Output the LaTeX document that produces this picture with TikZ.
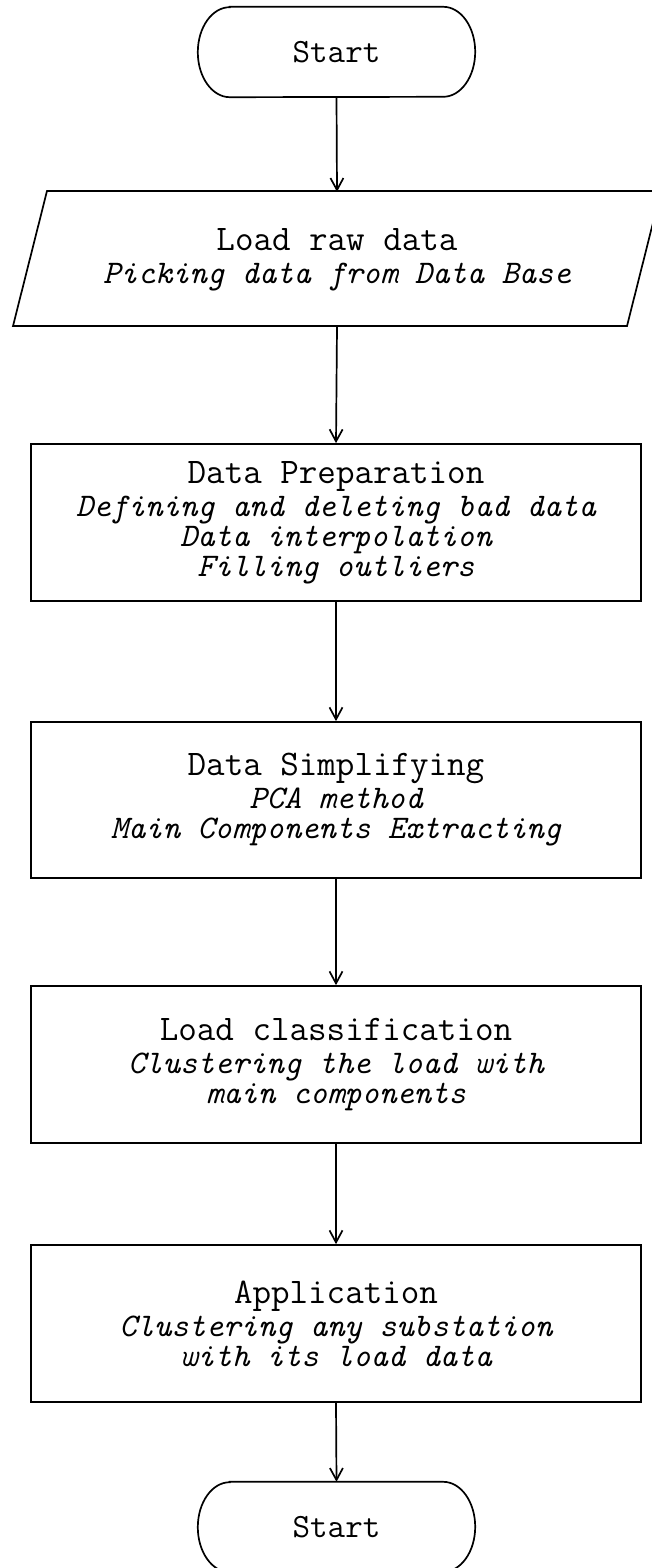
\documentclass[tikz,border=0pt]{standalone}
\usetikzlibrary{arrows.meta,calc}
\begin{document}
\begin{tikzpicture}[x=1pt,y=-1pt,
  line/.style={line width=1.7pt},
  flow/.style={line, -{Straight Barb[length=12pt,width=13pt,line width=1.7pt]}},
  stepbox/.style={draw, line, minimum width=610pt, inner sep=0pt, align=center,
    font=\fontsize{33}{30}\selectfont\ttfamily\itshape},
  termbox/.style={minimum width=277pt, minimum height=90pt, inner sep=0pt,
    font=\fontsize{34}{34}\selectfont\ttfamily}]
  % page
  \fill[white] (0,0) rectangle (652,1568);
  \useasboundingbox (0,0) rectangle (652,1568);

  % terminal (top)
  \node[termbox] (start) at (336.5,52) {Start};
  \draw[line] ($(start.north west)+(32,0)$) -- ($(start.north east)+(-32,0)$)
    arc[start angle=90, end angle=-90, x radius=32pt, y radius=45pt]
    -- ($(start.south west)+(32,0)$)
    arc[start angle=270, end angle=90, x radius=32pt, y radius=45pt] -- cycle;

  % input (parallelogram)
  \node[minimum width=614pt, minimum height=135pt, inner sep=0pt, align=center,
        font=\fontsize{33}{30}\selectfont\ttfamily\itshape] (load) at (337,259.5)
    {{\upshape\fontsize{36}{30}\selectfont Load raw data}\\[3pt]Picking data from Data Base};
  \draw[line] (47,191) -- (661,191) -- (627,326) -- (13,326) -- cycle;

  % processing steps
  \node[stepbox, minimum height=157pt] (prep) at (336,522.5)
    {{\upshape\fontsize{36}{30}\selectfont Data Preparation}\\[3pt]
     Defining and deleting bad data\\Data interpolation\\Filling outliers};
  \node[stepbox, minimum height=156pt] (simp) at (336,800)
    {{\upshape\fontsize{36}{30}\selectfont Data Simplifying}\\[3pt]
     PCA method\\Main Components Extracting};
  \node[stepbox, minimum height=157pt] (cls) at (336,1064.5)
    {{\upshape\fontsize{36}{30}\selectfont Load classification}\\[3pt]
     Clustering the load with\\ main components};
  \node[stepbox, minimum height=157pt] (app) at (336,1323.5)
    {{\upshape\fontsize{36}{30}\selectfont Application}\\[3pt]
     Clustering any substation\\ with its load data};

  % terminal (bottom)
  \node[termbox] (stop) at (336.5,1527) {Start};
  \draw[line] ($(stop.north west)+(32,0)$) -- ($(stop.north east)+(-32,0)$)
    arc[start angle=90, end angle=-90, x radius=32pt, y radius=45pt]
    -- ($(stop.south west)+(32,0)$)
    arc[start angle=270, end angle=90, x radius=32pt, y radius=45pt] -- cycle;

  % connectors
  \draw[flow] (start.south) -- (load.north);
  \draw[flow] (load.south) -- (prep.north);
  \draw[flow] (prep.south) -- (simp.north);
  \draw[flow] (simp.south) -- (cls.north);
  \draw[flow] (cls.south) -- (app.north);
  \draw[flow] (app.south) -- (stop.north);
\end{tikzpicture}
\end{document}
